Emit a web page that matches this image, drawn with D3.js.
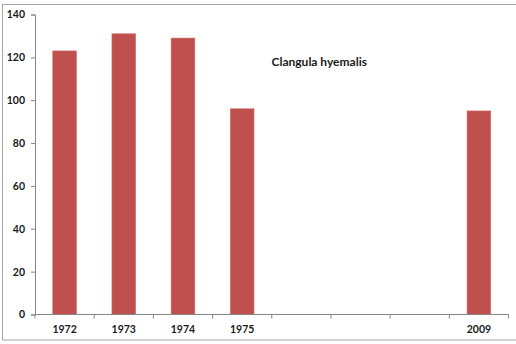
<!DOCTYPE html>
<html>
<head>
<meta charset="utf-8">
<script src="https://cdn.jsdelivr.net/npm/d3@7"></script>
<style>
  html, body { margin: 0; padding: 0; background: #fff; }
  svg { display: block; }
  text { font-family: "Lato", "Liberation Sans", sans-serif; font-weight: bold; fill: #1a1a1a; }
</style>
</head>
<body>
<script>
// Long-tailed duck counts by survey year
const categories = ["1972", "1973", "1974", "1975", "gap1", "gap2", "gap3", "2009"];
const tickLabels = ["1972", "1973", "1974", "1975", "", "", "", "2009"];
const values = [123, 131, 129, 96, null, null, null, 95];
const yTicks = [0, 20, 40, 60, 80, 100, 120, 140];
const title = "Clangula hyemalis";

const W = 516, H = 344;
const plot = { left: 35, right: 508.5, top: 14.5, bottom: 314.5 };

const svg = d3.select("body").append("svg")
  .attr("width", W).attr("height", H);

// chart frame
svg.append("rect")
  .attr("x", 2.5).attr("y", 4.5)
  .attr("width", 515).attr("height", 335.5)
  .attr("fill", "none").attr("stroke", "#a6a6a6").attr("stroke-width", 1);

const x = d3.scaleBand()
  .domain(categories)
  .range([plot.left, plot.right])
  .paddingInner(0.6).paddingOuter(0.3);

const y = d3.scaleLinear()
  .domain([0, 140])
  .range([plot.bottom, plot.top]);

// bars
svg.append("g").selectAll("rect")
  .data(categories.map((c, i) => ({ c, v: values[i] })).filter(d => d.v != null))
  .join("rect")
  .attr("x", d => x(d.c))
  .attr("y", d => y(d.v))
  .attr("width", x.bandwidth())
  .attr("height", d => y(0) - y(d.v))
  .attr("fill", "#c0504d")
  .attr("stroke", "#cd6f6c").attr("stroke-width", 0.6);

// y axis
const yAxis = svg.append("g")
  .attr("transform", `translate(${plot.left},0)`)
  .call(d3.axisLeft(y).tickValues(yTicks).tickSize(4).tickPadding(6).tickFormat(d3.format("d")));
yAxis.select(".domain").attr("stroke", "#868686");
yAxis.selectAll(".tick line").attr("stroke", "#868686");
yAxis.selectAll(".tick text")
  .attr("font-size", 10.5).attr("font-family", "Lato, sans-serif").attr("font-weight", "bold").attr("fill", "#1a1a1a");

// x axis: baseline with ticks at category boundaries
const xg = svg.append("g").attr("transform", `translate(0,${plot.bottom})`);
xg.append("line")
  .attr("x1", plot.left).attr("x2", plot.right)
  .attr("stroke", "#868686");
const step = (plot.right - plot.left) / categories.length;
xg.selectAll("line.tick")
  .data(d3.range(categories.length + 1))
  .join("line").attr("class", "tick")
  .attr("x1", i => plot.left + i * step).attr("x2", i => plot.left + i * step)
  .attr("y1", 0).attr("y2", 4)
  .attr("stroke", "#868686");
xg.selectAll("text")
  .data(categories.map((c, i) => ({ c, label: tickLabels[i] })))
  .join("text")
  .attr("x", d => x(d.c) + x.bandwidth() / 2)
  .attr("y", 18.5)
  .attr("text-anchor", "middle")
  .attr("font-size", 10.5)
  .text(d => d.label);

// title inside plot area
svg.append("text")
  .attr("x", 271.5).attr("y", 66)
  .attr("font-size", 12)
  .text(title);
</script>
</body>
</html>
